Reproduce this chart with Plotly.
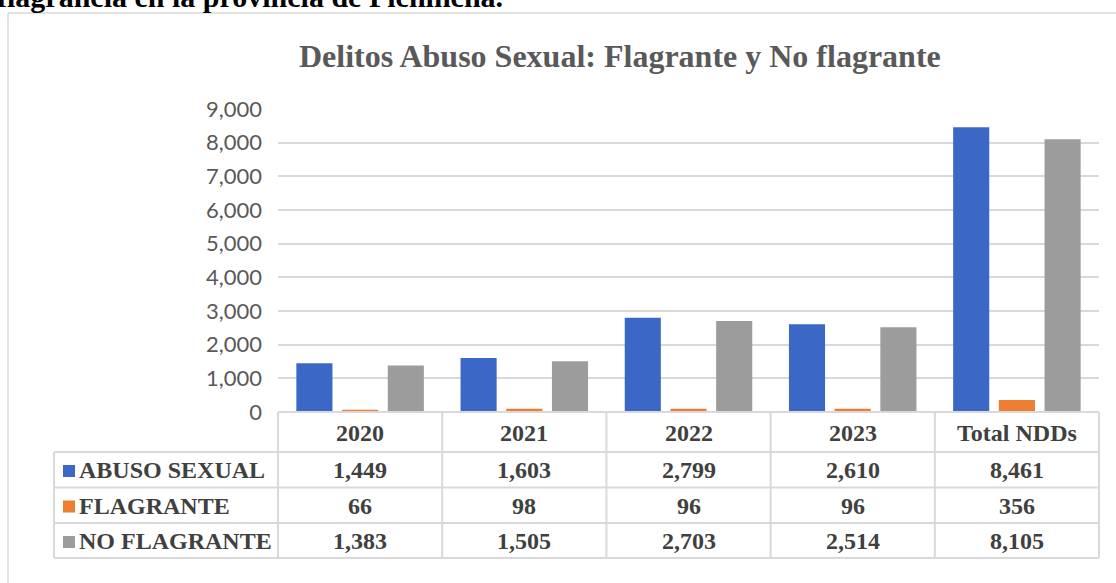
import plotly.graph_objects as go

categories = ["2020", "2021", "2022", "2023", "Total NDDs"]
abuso_sexual = [1449, 1603, 2799, 2610, 8461]
flagrante = [66, 98, 96, 96, 356]
no_flagrante = [1383, 1505, 2703, 2514, 8105]
series_names = ["ABUSO SEXUAL", "FLAGRANTE", "NO FLAGRANTE"]
series_colors = ["#3b68c6", "#ed7d31", "#9c9c9c"]
y_ticks = [0, 1000, 2000, 3000, 4000, 5000, 6000, 7000, 8000, 9000]

W, H = 1116, 583
ML, MR, MT, MB = 278, 17, 109, 171
PW = W - ML - MR
PH = H - MT - MB


def px(x):
    return (x - ML) / PW


def py(y):
    return (H - MB - y) / PH


fig = go.Figure()
for name, vals, col in zip(series_names, [abuso_sexual, flagrante, no_flagrante], series_colors):
    fig.add_trace(go.Bar(x=categories, y=vals, name=name, marker=dict(color=col, line=dict(width=0)),
                         showlegend=False))

GRID = "#d9d9d9"
TXT = "#404040"
SERIF = "Liberation Serif, Times New Roman, serif"

shapes = []
annotations = []

# chart frame (outer border, partially cropped)
shapes.append(dict(type="line", xref="paper", yref="paper", x0=px(8), x1=px(1120), y0=py(13), y1=py(13),
                   line=dict(color=GRID, width=1.5)))
shapes.append(dict(type="line", xref="paper", yref="paper", x0=px(8), x1=px(8), y0=py(13), y1=py(590),
                   line=dict(color=GRID, width=1.5)))

# data table grid
row_lines = [412, 452, 487.5, 523, 558]
left_x = 54
n = len(categories)
for i, yl in enumerate(row_lines):
    x0 = px(278) if i == 0 else px(left_x)
    shapes.append(dict(type="line", xref="paper", yref="paper", x0=x0, x1=1, y0=py(yl), y1=py(yl),
                       line=dict(color=GRID, width=2)))
for i in range(n + 1):
    shapes.append(dict(type="line", xref="paper", yref="paper", x0=i / n, x1=i / n,
                       y0=py(412), y1=py(558), line=dict(color=GRID, width=2)))
shapes.append(dict(type="line", xref="paper", yref="paper", x0=px(left_x), x1=px(left_x),
                   y0=py(452), y1=py(558), line=dict(color=GRID, width=2)))

# header row
for i, c in enumerate(categories):
    annotations.append(dict(xref="paper", yref="paper", x=(i + 0.5) / n, y=py(432.5), text=f"<b>{c}</b>",
                            showarrow=False, xanchor="center", yanchor="middle",
                            font=dict(family=SERIF, size=24, color=TXT)))

row_centers = [470, 505.5, 541]
for r, (name, vals, col) in enumerate(zip(series_names, [abuso_sexual, flagrante, no_flagrante], series_colors)):
    yc = row_centers[r]
    shapes.append(dict(type="rect", xref="paper", yref="paper", x0=px(63), x1=px(75),
                       y0=py(yc - 5), y1=py(yc + 7), fillcolor=col, line=dict(width=0)))
    annotations.append(dict(xref="paper", yref="paper", x=px(77), y=py(yc), text=f"<b>{name}</b>",
                            showarrow=False, xanchor="left", yanchor="middle",
                            font=dict(family=SERIF, size=24, color=TXT)))
    for i, v in enumerate(vals):
        annotations.append(dict(xref="paper", yref="paper", x=(i + 0.5) / n, y=py(yc), text=f"<b>{v:,}</b>",
                                showarrow=False, xanchor="center", yanchor="middle",
                                font=dict(family=SERIF, size=24, color=TXT)))

# title
annotations.append(dict(xref="paper", yref="paper", x=px(620), y=py(56),
                        text="<b>Delitos Abuso Sexual: Flagrante y No flagrante</b>",
                        showarrow=False, xanchor="center", yanchor="middle",
                        font=dict(family=SERIF, size=32, color="#595959")))

# cropped caption text above the chart (cut off at the top in the source image)
annotations.append(dict(xref="paper", yref="paper", x=px(-5), y=py(-3),
                        text="<b>flagrancia en la provincia de Pichincha.</b>",
                        showarrow=False, xanchor="left", yanchor="middle",
                        font=dict(family=SERIF, size=30, color="#000000")))

fig.update_layout(
    width=W, height=H,
    margin=dict(l=ML, r=MR, t=MT, b=MB),
    paper_bgcolor="white", plot_bgcolor="white",
    barmode="group", bargap=0.165, bargroupgap=0.21,
    shapes=shapes, annotations=annotations,
    xaxis=dict(type="category", range=[-0.5, n - 0.5], showticklabels=False, showgrid=False,
               showline=False, zeroline=False, ticks=""),
    yaxis=dict(range=[0, 9000], tickvals=y_ticks, tickformat=",", showgrid=True, gridcolor=GRID,
               gridwidth=1.5, zeroline=False, showline=False, ticks="", ticklabelstandoff=15,
               tickfont=dict(family="Lato, Open Sans, sans-serif", size=22, color="#595959")),
)

fig.write_html("out.html", config={"displayModeBar": False},
               post_script="document.body.style.margin='0';document.body.style.overflow='hidden';")
